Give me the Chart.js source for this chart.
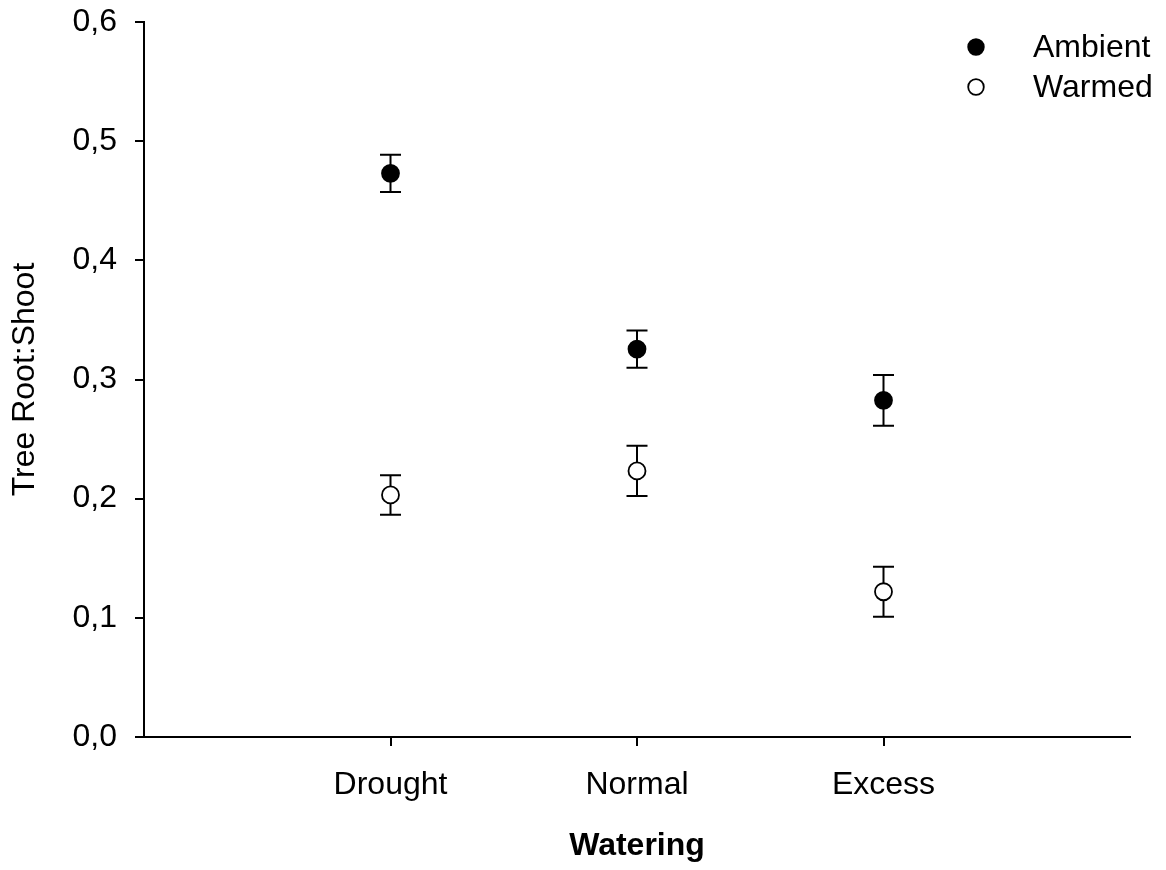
<!DOCTYPE html>
<html>
<head>
<meta charset="utf-8">
<title>Tree Root:Shoot by watering and warming</title>
<script src="https://cdn.jsdelivr.net/npm/chart.js@4/dist/chart.umd.min.js"></script>
<style>
  html, body { margin: 0; padding: 0; background: #ffffff; }
  #wrap { width: 1166px; height: 870px; position: relative; }
</style>
</head>
<body>
<div id="wrap"><canvas id="chart" width="1166" height="870"></canvas></div>
<script>
// Watering treatments along the x axis (placed at 1, 2, 3 on a 0..4 scale)
const categories = ['Drought', 'Normal', 'Excess'];
const categoryPositions = [1, 2, 3];

// Mean root:shoot ratio and standard error per treatment
const ambientMeans = [0.473, 0.3255, 0.2825];
const ambientErrors = [0.0157, 0.0156, 0.0213];
const warmedMeans = [0.2031, 0.2233, 0.1219];
const warmedErrors = [0.0165, 0.0211, 0.0209];

// Y axis tick labels (decimal comma)
const yTickValues = [0, 0.1, 0.2, 0.3, 0.4, 0.5, 0.6];
const yTickLabels = ['0,0', '0,1', '0,2', '0,3', '0,4', '0,5', '0,6'];

const FONT = 'Liberation Sans, Arial, Helvetica, sans-serif';

function toPoints(means) {
  return means.map((v, i) => ({ x: categoryPositions[i], y: v }));
}

// Vertical error bars with caps, drawn under the markers
const errorBars = {
  id: 'errorBars',
  beforeDatasetsDraw(chart) {
    const { ctx, scales: { x, y } } = chart;
    const cap = 10.5;
    ctx.save();
    ctx.strokeStyle = '#000';
    ctx.lineWidth = 2;
    chart.data.datasets.forEach(ds => {
      ds.data.forEach((p, i) => {
        const px = x.getPixelForValue(p.x);
        const top = y.getPixelForValue(p.y + ds.errors[i]);
        const bot = y.getPixelForValue(p.y - ds.errors[i]);
        ctx.beginPath();
        ctx.moveTo(px, top); ctx.lineTo(px, bot);
        ctx.moveTo(px - cap, top); ctx.lineTo(px + cap, top);
        ctx.moveTo(px - cap, bot); ctx.lineTo(px + cap, bot);
        ctx.stroke();
      });
    });
    ctx.restore();
  }
};

// Legend in the top-right corner
const cornerLegend = {
  id: 'cornerLegend',
  afterDraw(chart) {
    const { ctx } = chart;
    const mx = 976, tx = 1033, rows = [47, 87];
    ctx.save();
    ctx.font = '32px ' + FONT;
    ctx.textBaseline = 'middle';
    ctx.textAlign = 'left';
    chart.data.datasets.forEach((ds, i) => {
      const yy = rows[i];
      ctx.beginPath();
      ctx.arc(mx, yy, 7.8, 0, Math.PI * 2);
      ctx.fillStyle = ds.backgroundColor;
      ctx.fill();
      ctx.lineWidth = 1.8;
      ctx.strokeStyle = ds.borderColor;
      ctx.stroke();
      ctx.fillStyle = '#000';
      ctx.fillText(ds.label, tx, yy + 1);
    });
    ctx.restore();
  }
};

new Chart(document.getElementById('chart'), {
  type: 'scatter',
  data: {
    datasets: [
      {
        label: 'Ambient',
        data: toPoints(ambientMeans),
        errors: ambientErrors,
        backgroundColor: '#000000',
        borderColor: '#000000',
        borderWidth: 1.8,
        pointRadius: 8.5,
        pointHoverRadius: 8.5
      },
      {
        label: 'Warmed',
        data: toPoints(warmedMeans),
        errors: warmedErrors,
        backgroundColor: '#ffffff',
        borderColor: '#000000',
        borderWidth: 1.8,
        pointRadius: 8.5,
        pointHoverRadius: 8.5
      }
    ]
  },
  options: {
    responsive: false,
    animation: false,
    events: [],
    layout: { padding: { top: 22, right: 36, left: 0, bottom: 0 } },
    plugins: {
      legend: { display: false },
      tooltip: { enabled: false }
    },
    scales: {
      x: {
        type: 'linear',
        min: 0,
        max: 4,
        afterBuildTicks(scale) {
          scale.ticks = categoryPositions.map(v => ({ value: v }));
        },
        afterFit(scale) {
          scale.height = 133;
          scale.paddingLeft = 0;
          scale.paddingRight = 0;
        },
        ticks: {
          color: '#000',
          font: { family: FONT, size: 32 },
          padding: 20,
          maxRotation: 0,
          autoSkip: false,
          callback: (v) => categories[categoryPositions.indexOf(v)] ?? ''
        },
        grid: {
          drawOnChartArea: false,
          drawTicks: true,
          tickLength: 9,
          color: '#000',
          lineWidth: 2
        },
        border: { display: true, color: '#000', width: 2 },
        title: {
          display: true,
          text: 'Watering',
          color: '#000',
          font: { family: FONT, size: 32, weight: 'bold' },
          padding: { top: 0, bottom: 5 }
        }
      },
      y: {
        type: 'linear',
        min: 0,
        max: 0.6,
        afterBuildTicks(scale) {
          scale.ticks = yTickValues.map(v => ({ value: v }));
        },
        afterFit(scale) {
          scale.width = 144;
          scale.paddingTop = 0;
          scale.paddingBottom = 0;
        },
        ticks: {
          color: '#000',
          font: { family: FONT, size: 32 },
          padding: 18,
          callback: (v) => {
            const i = yTickValues.findIndex(t => Math.abs(t - v) < 1e-9);
            return i >= 0 ? yTickLabels[i] : '';
          }
        },
        grid: {
          drawOnChartArea: false,
          drawTicks: true,
          tickLength: 9,
          color: '#000',
          lineWidth: 2
        },
        border: { display: true, color: '#000', width: 2 },
        title: {
          display: true,
          text: 'Tree Root:Shoot',
          color: '#000',
          font: { family: FONT, size: 32 },
          padding: { top: 6, bottom: 0 }
        }
      }
    }
  },
  plugins: [errorBars, cornerLegend]
});
</script>
</body>
</html>
